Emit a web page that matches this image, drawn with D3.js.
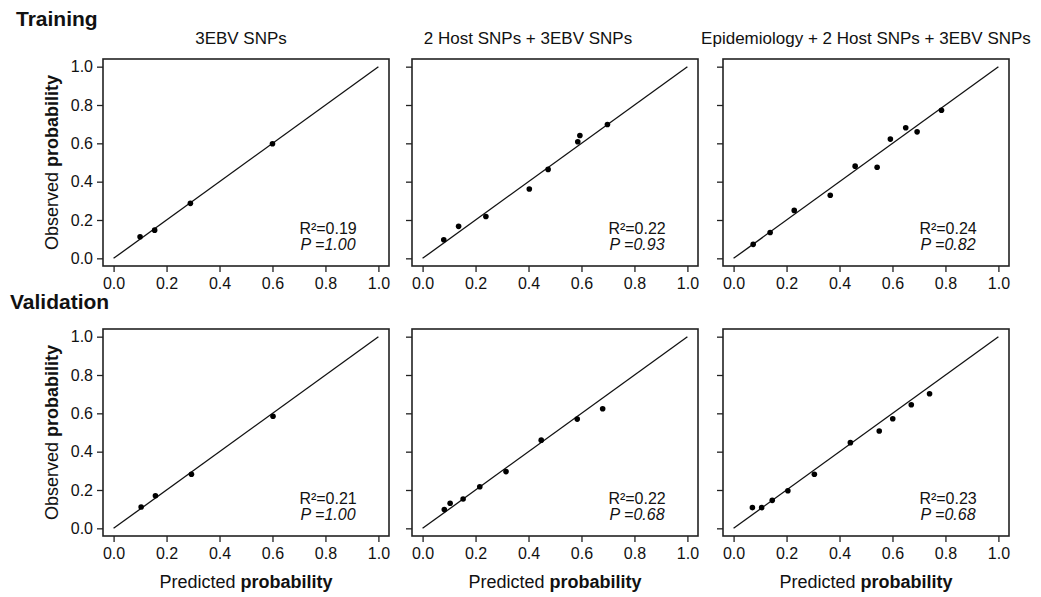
<!DOCTYPE html>
<html>
<head>
<meta charset="utf-8">
<script src="https://cdn.jsdelivr.net/npm/d3@7"></script>
<style>
  body { margin: 0; background: #fff; }
  text { font-family: "Liberation Sans", Arial, sans-serif; fill: #111; }
</style>
</head>
<body>
<div id="viz"></div>
<script>
// chart data
const rowNames = ["Training", "Validation"]
const panelTitles = ["3EBV SNPs", "2 Host SNPs + 3EBV SNPs", "Epidemiology + 2 Host SNPs + 3EBV SNPs"]
const tickValues = [0, 0.2, 0.4, 0.6, 0.8, 1.0]

const train3ebvPred = [0.10, 0.155, 0.29, 0.60]
const train3ebvObs = [0.113, 0.147, 0.287, 0.598]
const trainHostPred = [0.08, 0.136, 0.239, 0.403, 0.474, 0.586, 0.594, 0.698]
const trainHostObs = [0.097, 0.167, 0.218, 0.362, 0.464, 0.608, 0.641, 0.698]
const trainEpiPred = [0.074, 0.138, 0.229, 0.365, 0.459, 0.542, 0.592, 0.650, 0.693, 0.785]
const trainEpiObs = [0.073, 0.135, 0.250, 0.329, 0.481, 0.475, 0.622, 0.681, 0.660, 0.773]

const valid3ebvPred = [0.104, 0.158, 0.294, 0.602]
const valid3ebvObs = [0.111, 0.170, 0.282, 0.585]
const validHostPred = [0.082, 0.104, 0.153, 0.216, 0.315, 0.448, 0.584, 0.680]
const validHostObs = [0.098, 0.131, 0.153, 0.217, 0.296, 0.460, 0.570, 0.624]
const validEpiPred = [0.071, 0.106, 0.146, 0.205, 0.305, 0.441, 0.550, 0.601, 0.671, 0.740]
const validEpiObs = [0.108, 0.108, 0.146, 0.196, 0.282, 0.447, 0.508, 0.572, 0.645, 0.702]

const r2Labels = [["0.19", "0.22", "0.24"], ["0.21", "0.22", "0.23"]]
const pLabels = [["1.00", "0.93", "0.82"], ["1.00", "0.68", "0.68"]]

const panels = [
  [[train3ebvPred, train3ebvObs], [trainHostPred, trainHostObs], [trainEpiPred, trainEpiObs]],
  [[valid3ebvPred, valid3ebvObs], [validHostPred, validHostObs], [validEpiPred, validEpiObs]]
]

// layout
const width = 1041
const height = 597
const colLeft = [103, 412, 723]
const rowTop = [59, 329]
const boxW = 286
const boxH = 207
const titleShift = [-5, -27, 0]

const svg = d3.select("#viz").append("svg")
  .attr("width", width)
  .attr("height", height)

// row headings
svg.append("text").attr("x", 16).attr("y", 26)
  .attr("font-size", 21).attr("font-weight", "bold").text(rowNames[0])
svg.append("text").attr("x", 10).attr("y", 309)
  .attr("font-size", 21).attr("font-weight", "bold").text(rowNames[1])

rowTop.forEach((top, r) => {
  colLeft.forEach((left, c) => {
    const x = d3.scaleLinear().domain([-0.04, 1.04]).range([left, left + boxW])
    const y = d3.scaleLinear().domain([-0.04, 1.04]).range([top + boxH, top])
    const g = svg.append("g")

    // box
    g.append("rect")
      .attr("x", left).attr("y", top)
      .attr("width", boxW).attr("height", boxH)
      .attr("fill", "none").attr("stroke", "#222").attr("stroke-width", 1.6)

    // axes
    const xAxis = g.append("g")
      .attr("transform", `translate(0,${top + boxH})`)
      .call(d3.axisBottom(x).tickValues(tickValues).tickFormat(d3.format(".1f")).tickSize(6).tickPadding(6))
    const yAxis = g.append("g")
      .attr("transform", `translate(${left},0)`)
      .call(d3.axisLeft(y).tickValues(tickValues).tickSize(6).tickPadding(4)
        .tickFormat(c === 0 ? d3.format(".1f") : ""))
    ;[xAxis, yAxis].forEach(a => {
      a.select(".domain").remove()
      a.selectAll("line").attr("stroke", "#222").attr("stroke-width", 1.3)
      a.selectAll("text").attr("font-size", 16).attr("fill", "#111")
        .attr("font-family", "'Liberation Sans', Arial, sans-serif")
    })

    // identity line
    g.append("line")
      .attr("x1", x(0)).attr("y1", y(0))
      .attr("x2", x(1)).attr("y2", y(1))
      .attr("stroke", "#111").attr("stroke-width", 1.3)

    // points
    const [pred, obs] = panels[r][c]
    g.selectAll("circle")
      .data(pred.map((p, i) => [p, obs[i]]))
      .enter()
      .append("circle")
        .attr("cx", d => x(d[0]))
        .attr("cy", d => y(d[1]))
        .attr("r", 2.8)
        .attr("fill", "#000")

    // stats text
    g.append("text")
      .attr("x", x(0.81)).attr("y", y(0.125))
      .attr("text-anchor", "middle").attr("font-size", 16)
      .text("R²=" + r2Labels[r][c])
    g.append("text")
      .attr("x", x(0.81)).attr("y", y(0.045))
      .attr("text-anchor", "middle").attr("font-size", 16).attr("font-style", "italic")
      .text("P =" + pLabels[r][c])

    // column titles
    if (r === 0) {
      g.append("text")
        .attr("x", left + boxW / 2 + titleShift[c]).attr("y", 44)
        .attr("text-anchor", "middle").attr("font-size", 17)
        .text(panelTitles[c])
    }

    // y label
    if (c === 0) {
      const yl = g.append("text")
        .attr("transform", `translate(58,${top + boxH / 2}) rotate(-90)`)
        .attr("text-anchor", "middle").attr("font-size", 18)
      yl.append("tspan").text("Observed ")
      yl.append("tspan").attr("font-weight", "bold").text("probability")
    }

    // x label
    if (r === 1) {
      const xl = g.append("text")
        .attr("x", left + boxW / 2).attr("y", 588)
        .attr("text-anchor", "middle").attr("font-size", 18)
      xl.append("tspan").text("Predicted ")
      xl.append("tspan").attr("font-weight", "bold").text("probability")
    }
  })
})
</script>
</body>
</html>
